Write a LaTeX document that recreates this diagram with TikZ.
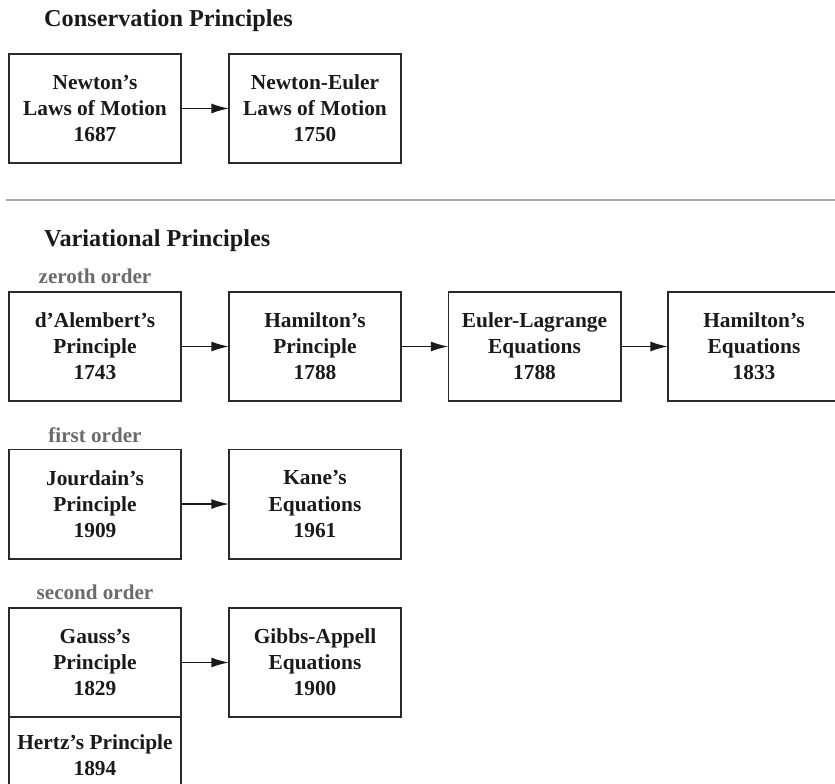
\documentclass[tikz,border=0pt]{standalone}
\usepackage{fontspec}
\setmainfont{Liberation Serif}
\usetikzlibrary{arrows.meta}
\definecolor{boxline}{HTML}{2A2A2A}
\definecolor{boxtext}{HTML}{1A1A1A}
\definecolor{ordertext}{HTML}{6B6B6B}
\definecolor{ruleline}{HTML}{AAAAAA}
\begin{document}
\begin{tikzpicture}[x=0.03cm,y=-0.03cm]
  \tikzstyle{box}=[draw=boxline,line width=1.7pt,rectangle,minimum width=5.16cm,minimum height=3.27cm,inner sep=0pt,outer sep=0pt,align=center,text=boxtext,font=\bfseries\fontsize{18.25}{22.3}\selectfont]
  \tikzstyle{title}=[anchor=base west,inner sep=0pt,text=boxtext,font=\bfseries\fontsize{20.7}{24}\selectfont]
  \tikzstyle{order}=[anchor=base,inner sep=0pt,text=ordertext,font=\bfseries\fontsize{18}{21}\selectfont]
  \tikzstyle{edge} = [draw=boxtext,line width=1.4pt,-{Latex[length=15pt,width=8.5pt]}]

    \useasboundingbox (0,0) rectangle (835,784);

    \node[title] (cons) at (44,26) {Conservation Principles};
    \node[box] (newton) at (95,108.5) {Newton's\\Laws of Motion\\1687};
    \node[box] (neweul) at (315,108.5) {Newton-Euler\\Laws of Motion\\1750};
    \path[edge] (newton) -- (neweul);

    \coordinate (rulel) at (6,200);
    \coordinate (ruler) at (835,200);
    \draw[ruleline,line width=1.8pt] (rulel) -- (ruler);

    \node[title] (vari) at (44,246) {Variational Principles};

    \node[order] (zeroth) at (95,283) {zeroth order};
    \node[box] (dalem) at (95,346.5) {d'Alembert's\\Principle\\1743};
    \node[box] (hamp) at (315,346.5) {Hamilton's\\Principle\\1788};
    \node[box] (eulag) at (534.5,346.5) {Euler-Lagrange\\Equations\\1788};
    \node[box] (hame) at (754,346.5) {Hamilton's\\Equations\\1833};
    \path[edge] (dalem) -- (hamp);
    \path[edge] (hamp) -- (eulag);
    \path[edge] (eulag) -- (hame);

    \node[order] (first) at (95,442) {first order};
    \node[box] (jourd) at (95,504) {Jourdain's\\Principle\\1909};
    \node[box] (kane) at (315,504) {Kane's\\Equations\\1961};
    \path[edge] (jourd) -- (kane);

    \node[order] (second) at (95,599) {second order};
    \node[box] (gauss) at (95,662.5) {Gauss's\\Principle\\1829};
    \node[box] (gibbs) at (315,662.5) {Gibbs-Appell\\Equations\\1900};
    \node[box,anchor=north,minimum height=2.3cm] (hertz) at (gauss.south) {Hertz's Principle\\1894};
    \path[edge] (gauss) -- (gibbs);
\end{tikzpicture}
\end{document}
